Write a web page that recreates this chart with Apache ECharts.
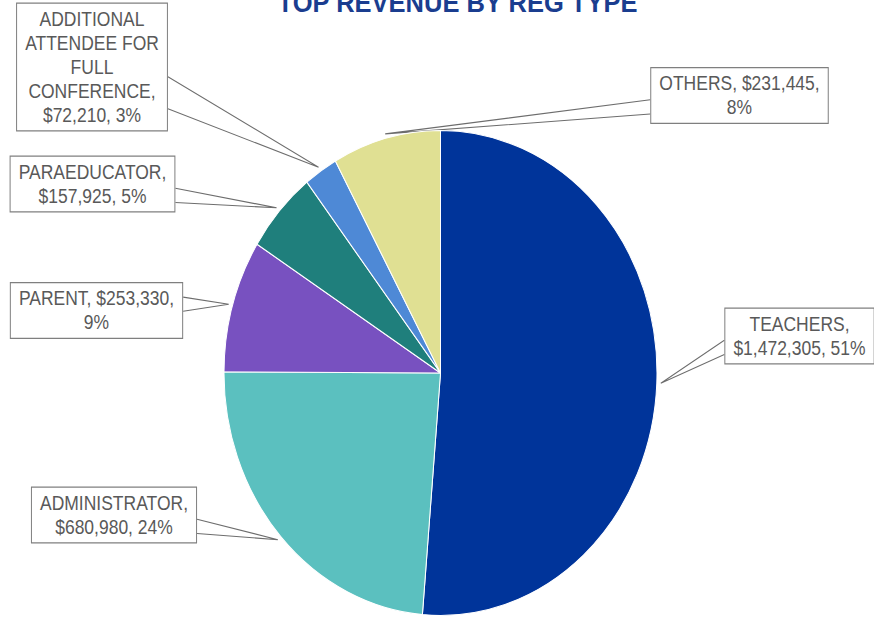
<!DOCTYPE html>
<html>
<head>
<meta charset="utf-8">
<script src="https://cdn.jsdelivr.net/npm/echarts@6/dist/echarts.min.js"></script>
<style>
  html, body { margin: 0; padding: 0; background: #ffffff; overflow: hidden; }
  #wrap { width: 874px; height: 617px; overflow: hidden; }
  #c { width: 874px; height: 551px; transform: scaleY(1.12); transform-origin: 0 0; }
</style>
</head>
<body>
<div id="wrap"><div id="c"></div></div>
<script>
// ---- data ----
const chartTitle = 'TOP REVENUE BY REG TYPE';
const categories = ['TEACHERS', 'ADMINISTRATOR', 'PARENT', 'PARAEDUCATOR', 'ADDITIONAL\nATTENDEE FOR\nFULL\nCONFERENCE', 'OTHERS'];
const revenue = [1472305, 680980, 253330, 157925, 72210, 231445];
const labelTemplates = ['{n},\n{v}, {p}%', '{n},\n{v}, {p}%', '{n}, {v},\n{p}%', '{n},\n{v}, {p}%', '{n},\n{v}, {p}%', '{n}, {v},\n{p}%'];

// ---- style / layout ----
const sliceColors = ['#00349A', '#5BC0BF', '#7851C0', '#1F7F7C', '#4E89D6', '#E0E093'];
const labelPos = [[799.5, 300], [114, 459.8], [96.5, 277.2], [92.5, 164.3], [92, 59.8], [739.5, 85.3]];
const pieCenter = [440.5, 333];
const pieRadius = 216.5;

const chart = echarts.init(document.getElementById('c'), null, { renderer: 'svg' });

const fmtMoney = v => '$' + v.toLocaleString('en-US');
const total = revenue.reduce((a, b) => a + b, 0);
// mid angle (clockwise from 12 o'clock) of each slice, matching the pie's startAngle 90 / clockwise layout
const midAngles = (() => {
  let acc = 0;
  return revenue.map(v => {
    const mid = (acc + v / 2) / total * 2 * Math.PI;
    acc += v;
    return mid;
  });
})();

chart.setOption({
  animation: false,
  backgroundColor: '#ffffff',
  graphic: [{
    type: 'text',
    x: 457.5,
    y: 2,
    style: {
      text: chartTitle,
      fill: '#1A3D8F',
      font: 'bold 25.5px "Liberation Sans", Arial, sans-serif',
      textAlign: 'center',
      textVerticalAlign: 'middle'
    }
  }],
  series: [{
    type: 'pie',
    center: pieCenter,
    radius: pieRadius,
    startAngle: 90,
    clockwise: true,
    percentPrecision: 0,
    avoidLabelOverlap: false,
    data: categories.map((n, i) => ({
      name: n,
      value: revenue[i],
      itemStyle: { color: sliceColors[i] }
    })),
    itemStyle: { borderColor: '#ffffff', borderWidth: 1 },
    label: {
      show: true,
      position: 'outside',
      formatter: p => labelTemplates[p.dataIndex]
        .replace('{n}', p.name)
        .replace('{v}', fmtMoney(p.value))
        .replace('{p}', p.percent),
      color: '#595959',
      fontFamily: '"Liberation Sans", Arial, sans-serif',
      fontSize: 17.5,
      lineHeight: 21.4,
      align: 'center',
      backgroundColor: '#ffffff',
      borderColor: '#7f7f7f',
      borderWidth: 1,
      padding: [3, 8]
    },
    labelLine: {
      show: true,
      length: 10,
      length2: 0,
      smooth: false,
      minTurnAngle: 0,
      maxSurfaceAngle: 180,
      lineStyle: { color: '#6d6d6d', width: 1 }
    },
    labelLayout: function (params) {
      const i = params.dataIndex;
      const pos = labelPos[i];
      const w = params.labelRect.width;
      const h = params.labelRect.height;
      const top = pos[1] - h / 2;
      const bottom = pos[1] + h / 2;
      const a = midAngles[i];
      const rr = pieRadius + 4;
      const anchor = [pieCenter[0] + rr * Math.sin(a), pieCenter[1] - rr * Math.cos(a)];
      const sideX = pos[0] < pieCenter[0] ? pos[0] + w / 2 : pos[0] - w / 2;
      const yc = Math.max(top + 0.22 * h, Math.min(bottom - 0.3 * h, anchor[1]));
      const hw = 0.125 * h;
      return {
        x: pos[0], y: pos[1], align: 'center', verticalAlign: 'middle',
        labelLinePoints: [[sideX, yc - hw], anchor, [sideX, yc + hw]]
      };
    },
    emphasis: { disabled: true }
  }]
});
</script>
</body>
</html>
